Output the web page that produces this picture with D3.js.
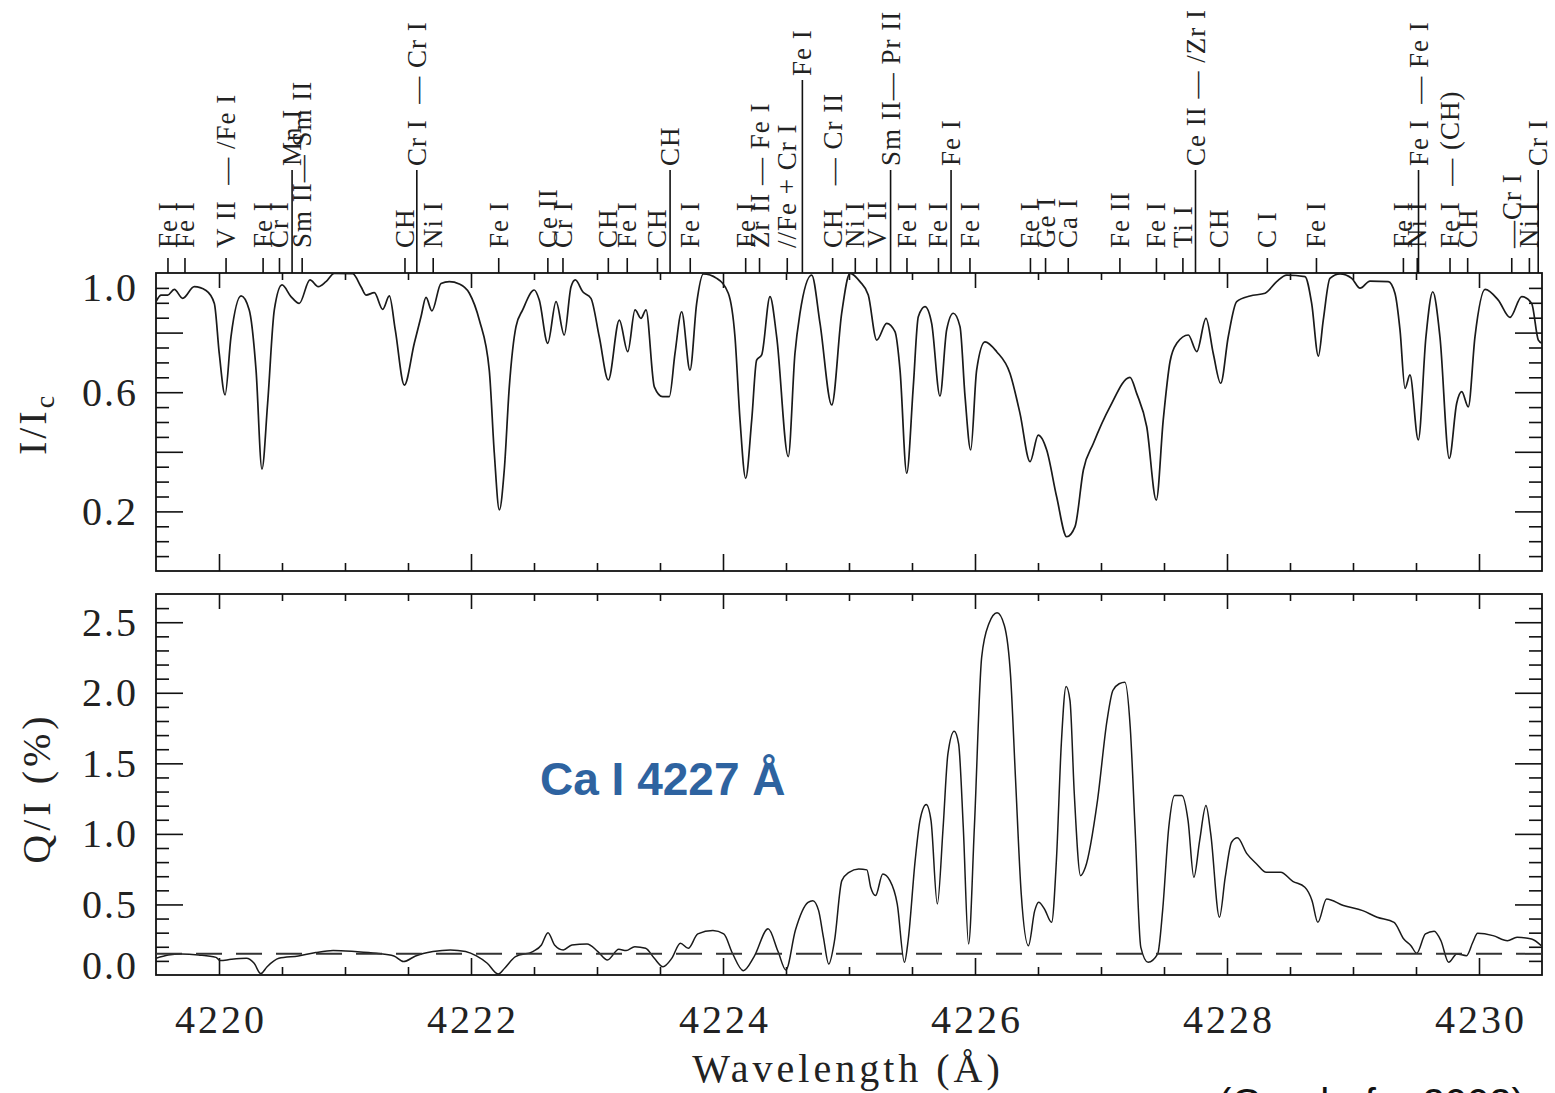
<!DOCTYPE html>
<html>
<head>
<meta charset="utf-8">
<script src="https://cdn.jsdelivr.net/npm/d3@7"></script>
<style>
  body { margin: 0; background: #fff; }
  svg text { font-family: "Liberation Serif", "DejaVu Serif", serif; }
</style>
</head>
<body>
<div id="chart"></div>
<script>
// upper panel: I/Ic
const iWave = [4219.500, 4219.540, 4219.593, 4219.645, 4219.712, 4219.804, 4219.897, 4219.963, 4220.002, 4220.048,
  4220.095, 4220.175, 4220.240, 4220.294, 4220.341, 4220.386, 4220.439, 4220.500, 4220.571, 4220.637,
  4220.722, 4220.788, 4220.849, 4220.915, 4221.061, 4221.127, 4221.167, 4221.233, 4221.299, 4221.352,
  4221.399, 4221.471, 4221.550, 4221.603, 4221.643, 4221.690, 4221.762, 4221.828, 4221.907, 4221.987,
  4222.066, 4222.145, 4222.185, 4222.225, 4222.264, 4222.304, 4222.357, 4222.410, 4222.502, 4222.542,
  4222.609, 4222.675, 4222.740, 4222.794, 4222.828, 4222.887, 4222.952, 4223.018, 4223.090, 4223.177,
  4223.244, 4223.302, 4223.349, 4223.389, 4223.455, 4223.521, 4223.574, 4223.619, 4223.672, 4223.738,
  4223.791, 4223.844, 4223.950, 4224.042, 4224.095, 4224.135, 4224.180, 4224.228, 4224.267, 4224.307,
  4224.373, 4224.426, 4224.518, 4224.571, 4224.611, 4224.704, 4224.770, 4224.863, 4224.942, 4225.008,
  4225.087, 4225.153, 4225.220, 4225.299, 4225.365, 4225.405, 4225.458, 4225.510, 4225.550, 4225.603,
  4225.656, 4225.722, 4225.775, 4225.828, 4225.881, 4225.921, 4225.966, 4226.013, 4226.079, 4226.172,
  4226.278, 4226.357, 4226.437, 4226.502, 4226.569, 4226.648, 4226.728, 4226.794, 4226.860, 4226.939,
  4227.071, 4227.230, 4227.283, 4227.363, 4227.439, 4227.494, 4227.548, 4227.601, 4227.693, 4227.760,
  4227.833, 4227.891, 4227.950, 4228.010, 4228.077, 4228.183, 4228.302, 4228.394, 4228.474, 4228.619,
  4228.672, 4228.725, 4228.764, 4228.817, 4228.897, 4228.990, 4229.056, 4229.135, 4229.280, 4229.333,
  4229.373, 4229.413, 4229.452, 4229.518, 4229.579, 4229.633, 4229.690, 4229.764, 4229.823, 4229.863,
  4229.915, 4229.968, 4230.048, 4230.153, 4230.246, 4230.339, 4230.418, 4230.471, 4230.500]
const iVal = [0.904, 0.926, 0.926, 0.945, 0.915, 0.954, 0.941, 0.898, 0.730, 0.591,
  0.786, 0.923, 0.876, 0.674, 0.342, 0.563, 0.876, 0.960, 0.921, 0.898,
  0.977, 0.954, 0.971, 0.999, 0.998, 0.954, 0.926, 0.934, 0.878, 0.923,
  0.809, 0.624, 0.764, 0.853, 0.918, 0.873, 0.965, 0.971, 0.963, 0.932,
  0.842, 0.674, 0.395, 0.205, 0.339, 0.618, 0.820, 0.876, 0.943, 0.909,
  0.764, 0.904, 0.792, 0.954, 0.977, 0.937, 0.915, 0.786, 0.641, 0.842,
  0.736, 0.876, 0.848, 0.876, 0.618, 0.585, 0.585, 0.730, 0.870, 0.674,
  0.898, 0.997, 0.982, 0.932, 0.786, 0.507, 0.311, 0.507, 0.708, 0.725,
  0.921, 0.786, 0.384, 0.730, 0.865, 0.993, 0.831, 0.557, 0.865, 0.999,
  0.971, 0.926, 0.775, 0.831, 0.803, 0.674, 0.328, 0.618, 0.853, 0.887,
  0.831, 0.587, 0.809, 0.865, 0.820, 0.585, 0.406, 0.674, 0.769, 0.736,
  0.663, 0.529, 0.367, 0.456, 0.406, 0.249, 0.115, 0.149, 0.339, 0.428,
  0.551, 0.650, 0.596, 0.484, 0.238, 0.507, 0.703, 0.764, 0.792, 0.736,
  0.848, 0.730, 0.630, 0.786, 0.904, 0.923, 0.932, 0.971, 0.993, 0.988,
  0.898, 0.721, 0.842, 0.982, 0.997, 0.982, 0.949, 0.973, 0.971, 0.932,
  0.809, 0.613, 0.658, 0.440, 0.786, 0.937, 0.786, 0.378, 0.563, 0.602,
  0.551, 0.786, 0.945, 0.909, 0.851, 0.921, 0.898, 0.775, 0.764]

// lower panel: Q/I in percent
const qWave = [4219.500, 4219.597, 4219.700, 4219.838, 4219.976, 4220.010, 4220.096, 4220.217, 4220.279, 4220.331,
  4220.382, 4220.475, 4220.630, 4220.768, 4220.906, 4221.078, 4221.250, 4221.388, 4221.464, 4221.560,
  4221.698, 4221.836, 4221.957, 4222.043, 4222.129, 4222.215, 4222.267, 4222.353, 4222.491, 4222.559,
  4222.611, 4222.663, 4222.732, 4222.801, 4222.921, 4223.007, 4223.083, 4223.173, 4223.231, 4223.300,
  4223.386, 4223.455, 4223.524, 4223.593, 4223.662, 4223.724, 4223.800, 4223.920, 4224.006, 4224.075,
  4224.161, 4224.247, 4224.358, 4224.437, 4224.499, 4224.575, 4224.675, 4224.713, 4224.759, 4224.797,
  4224.839, 4224.885, 4224.943, 4225.000, 4225.077, 4225.142, 4225.172, 4225.211, 4225.268, 4225.325,
  4225.383, 4225.440, 4225.470, 4225.525, 4225.563, 4225.613, 4225.651, 4225.701, 4225.747, 4225.785,
  4225.835, 4225.870, 4225.907, 4225.949, 4225.995, 4226.053, 4226.110, 4226.175, 4226.233, 4226.283,
  4226.321, 4226.367, 4226.424, 4226.474, 4226.505, 4226.551, 4226.608, 4226.646, 4226.685, 4226.723,
  4226.754, 4226.788, 4226.838, 4226.876, 4226.972, 4227.048, 4227.094, 4227.144, 4227.190, 4227.232,
  4227.270, 4227.316, 4227.374, 4227.450, 4227.489, 4227.538, 4227.584, 4227.642, 4227.691, 4227.737,
  4227.783, 4227.833, 4227.871, 4227.940, 4227.986, 4228.036, 4228.082, 4228.159, 4228.235, 4228.312,
  4228.426, 4228.522, 4228.618, 4228.675, 4228.721, 4228.790, 4228.924, 4229.077, 4229.192, 4229.326,
  4229.403, 4229.460, 4229.506, 4229.575, 4229.644, 4229.698, 4229.759, 4229.824, 4229.901, 4229.951,
  4229.989, 4230.111, 4230.226, 4230.302, 4230.417, 4230.494]
const qVal = [0.118, 0.142, 0.149, 0.142, 0.125, 0.102, 0.111, 0.118, 0.083, 0.010,
  0.059, 0.118, 0.135, 0.159, 0.173, 0.166, 0.154, 0.135, 0.095, 0.135,
  0.166, 0.178, 0.166, 0.135, 0.083, 0.007, 0.048, 0.130, 0.166, 0.213,
  0.300, 0.213, 0.178, 0.213, 0.220, 0.166, 0.107, 0.182, 0.173, 0.201,
  0.189, 0.118, 0.059, 0.118, 0.225, 0.189, 0.291, 0.315, 0.291, 0.154,
  0.031, 0.130, 0.327, 0.166, 0.036, 0.319, 0.515, 0.527, 0.456, 0.267,
  0.078, 0.243, 0.669, 0.728, 0.752, 0.745, 0.622, 0.563, 0.716, 0.669,
  0.503, 0.090, 0.250, 0.811, 1.094, 1.208, 1.094, 0.503, 1.047, 1.567,
  1.728, 1.638, 1.047, 0.220, 1.047, 2.253, 2.489, 2.567, 2.477, 2.111,
  1.402, 0.574, 0.208, 0.456, 0.515, 0.468, 0.373, 0.811, 1.638, 2.045,
  1.945, 1.284, 0.704, 0.763, 1.236, 1.804, 2.016, 2.064, 2.075, 1.756,
  1.047, 0.196, 0.090, 0.149, 0.456, 1.047, 1.272, 1.272, 1.094, 0.693,
  0.953, 1.201, 1.000, 0.409, 0.693, 0.941, 0.972, 0.858, 0.787, 0.728,
  0.728, 0.664, 0.622, 0.527, 0.373, 0.539, 0.492, 0.456, 0.409, 0.373,
  0.255, 0.208, 0.154, 0.291, 0.310, 0.243, 0.090, 0.149, 0.137, 0.232,
  0.295, 0.279, 0.243, 0.267, 0.255, 0.208]

// line identifications along the top (level: 0 short mark, 1 long, 2 tallest)
const idWave = [4219.595, 4219.730, 4220.056, 4220.350, 4220.480, 4220.580, 4220.660, 4221.476, 4221.570, 4221.700,
  4222.220, 4222.610, 4222.730, 4223.090, 4223.240, 4223.480, 4223.580, 4223.740, 4224.180, 4224.290,
  4224.510, 4224.630, 4224.870, 4225.050, 4225.220, 4225.330, 4225.460, 4225.710, 4225.810, 4225.960,
  4226.440, 4226.560, 4226.740, 4227.150, 4227.440, 4227.650, 4227.750, 4227.940, 4228.320, 4228.710,
  4229.400, 4229.510, 4229.520, 4229.770, 4229.910, 4230.260, 4230.400, 4230.470]
const idLabel = ["Fe I", "Fe I", "V II  — /Fe I", "Fe I", "Cr I", "Mn I", "Sm II— Sm II", "CH", "Cr I  — Cr I", "Ni I",
  "Fe I", "Ce II", "Cr I", "CH", "Fe I", "CH", "CH", "Fe I", "Fe I", "Zr II — Fe I",
  "//Fe + Cr I", "Fe I", "CH   — Cr II", "Ni I", "V II", "Sm II— Pr II", "Fe I", "Fe I", "Fe I", "Fe I",
  "Fe I", "Ge I", "Ca I", "Fe II", "Fe I", "Ti I", "Ce II — /Zr I", "CH", "C I", "Fe I",
  "Fe I", "Ni I", "Fe I  — Fe I", "Fe I  — (CH)", "CH", "—Cr I", "Ni I", "Cr I"]
const idLevel = [0, 0, 0, 0, 0, 1, 0, 0, 1, 0,
  0, 0, 0, 0, 0, 0, 1, 0, 0, 0,
  0, 2, 0, 0, 0, 1, 0, 0, 1, 0,
  0, 0, 0, 0, 0, 0, 1, 0, 0, 0,
  0, 0, 1, 0, 0, 0, 0, 1]

const xLabels = [4220, 4222, 4224, 4226, 4228, 4230]
const iLabels = [0.2, 0.6, 1.0]
const qLabels = [0.0, 0.5, 1.0, 1.5, 2.0, 2.5]
const qReference = 0.15

function drawChart(selector) {

  let width = 1555
  let height = 1093
  let left = 156, right = 1542
  let top1 = 273, bot1 = 571
  let top2 = 594, bot2 = 975

  let svg = d3.select(selector)
    .append("svg")
    .attr("width", width)
    .attr("height", height)
    .style("background", "#fff")

  let x = d3.scaleLinear().domain([4219.5, 4230.5]).range([left, right])
  let yI = d3.scaleLinear().domain([0, 1]).range([bot1, top1])
  let yQ = d3.scaleLinear().domain([0, 2.7]).range([bot2, top2])

  let majorX = xLabels
  let minorX = d3.range(1, 21).map(i => 4220 + i * 0.5).filter(v => !majorX.includes(v))

  // clip paths so the curves stay inside the boxes
  let defs = svg.append("defs")
  defs.append("clipPath").attr("id", "clipTop")
    .append("rect").attr("x", left).attr("y", top1).attr("width", right - left).attr("height", bot1 - top1)
  defs.append("clipPath").attr("id", "clipBot")
    .append("rect").attr("x", left).attr("y", top2).attr("width", right - left).attr("height", bot2 - top2)

  function tickAxis(axis, pos, values, size) {
    let g = svg.append("g")
      .attr("transform", pos)
      .call(axis.tickValues(values).tickSize(size).tickFormat(""))
    g.select(".domain").remove()
    g.selectAll("line").attr("stroke", "#111").attr("stroke-width", 1.6)
  }

  function panelTicks(y, top, bot, majorY, minorY) {
    tickAxis(d3.axisBottom(x), `translate(0,${bot})`, majorX, -17)
    tickAxis(d3.axisBottom(x), `translate(0,${bot})`, minorX, -8)
    tickAxis(d3.axisTop(x), `translate(0,${top})`, majorX, -15)
    tickAxis(d3.axisTop(x), `translate(0,${top})`, minorX, -7)
    tickAxis(d3.axisLeft(y), `translate(${left},0)`, majorY, -27)
    tickAxis(d3.axisLeft(y), `translate(${left},0)`, minorY, -13)
    tickAxis(d3.axisRight(y), `translate(${right},0)`, majorY, -27)
    tickAxis(d3.axisRight(y), `translate(${right},0)`, minorY, -13)

    svg.append("rect")
      .attr("x", left).attr("y", top)
      .attr("width", right - left).attr("height", bot - top)
      .attr("fill", "none")
      .attr("stroke", "#111")
      .attr("stroke-width", 1.8)
  }

  let iMajor = [0.2, 0.4, 0.6, 0.8]
  let iMinor = d3.range(1, 20).map(i => +(i * 0.05).toFixed(2)).filter(v => !iMajor.includes(v))
  let qMajor = [0.5, 1.0, 1.5, 2.0, 2.5]
  let qMinor = d3.range(1, 27).map(i => +(i * 0.1).toFixed(1)).filter(v => !qMajor.includes(v))

  panelTicks(yI, top1, bot1, iMajor, iMinor)
  panelTicks(yQ, top2, bot2, qMajor, qMinor)

  // y tick labels
  function yLabels(values, y, top, bot) {
    svg.append("g").selectAll("text")
      .data(values)
      .enter().append("text")
      .attr("x", 138)
      .attr("y", d => Math.min(Math.max(y(d), top + 14), bot - 10))
      .attr("dominant-baseline", "central")
      .attr("text-anchor", "end")
      .style("font-size", "40px")
      .style("letter-spacing", "2px")
      .attr("fill", "#222")
      .text(d => d.toFixed(1))
  }
  yLabels(iLabels, yI, top1, bot1)
  yLabels(qLabels, yQ, top2, bot2)

  // x tick labels
  svg.append("g").selectAll("text")
    .data(xLabels)
    .enter().append("text")
    .attr("x", d => x(d) + 2)
    .attr("y", bot2 + 58)
    .attr("text-anchor", "middle")
    .style("font-size", "40px")
    .style("letter-spacing", "3px")
    .attr("fill", "#222")
    .text(d => d)

  // axis titles
  svg.append("text")
    .attr("x", 848).attr("y", 1082)
    .attr("text-anchor", "middle")
    .style("font-size", "40px")
    .style("letter-spacing", "4px")
    .attr("fill", "#222")
    .text("Wavelength (Å)")

  let iTitle = svg.append("text")
    .attr("transform", "translate(46,424) rotate(-90)")
    .attr("text-anchor", "middle")
    .style("font-size", "40px")
    .style("letter-spacing", "3px")
    .attr("fill", "#222")
  iTitle.append("tspan").text("I/I")
  iTitle.append("tspan").attr("dy", 8).style("font-size", "28px").text("c")

  svg.append("text")
    .attr("transform", "translate(50,788) rotate(-90)")
    .attr("text-anchor", "middle")
    .style("font-size", "40px")
    .style("letter-spacing", "4px")
    .attr("fill", "#222")
    .text("Q/I (%)")

  // spectra
  let lineI = d3.line()
    .x((d, i) => x(iWave[i]))
    .y(d => yI(d))
    .curve(d3.curveMonotoneX)

  svg.append("path")
    .datum(iVal)
    .attr("clip-path", "url(#clipTop)")
    .attr("d", lineI)
    .attr("fill", "none")
    .attr("stroke", "#1a1a1a")
    .attr("stroke-width", 1.7)

  let lineQ = d3.line()
    .x((d, i) => x(qWave[i]))
    .y(d => yQ(d))
    .curve(d3.curveMonotoneX)

  svg.append("path")
    .datum(qVal)
    .attr("clip-path", "url(#clipBot)")
    .attr("d", lineQ)
    .attr("fill", "none")
    .attr("stroke", "#1a1a1a")
    .attr("stroke-width", 1.5)

  // dashed reference level
  svg.append("line")
    .attr("x1", left).attr("x2", right)
    .attr("y1", yQ(qReference)).attr("y2", yQ(qReference))
    .attr("stroke", "#333")
    .attr("stroke-width", 2)
    .attr("stroke-dasharray", "26,14")

  // line identification marks above the upper box
  let markHeight = [15, 103, 193]
  let ids = svg.append("g").selectAll("g")
    .data(idWave.map((w, i) => ({ w: w, label: idLabel[i], level: idLevel[i] })))
    .enter().append("g")

  ids.append("line")
    .attr("x1", d => x(d.w)).attr("x2", d => x(d.w))
    .attr("y1", top1).attr("y2", d => top1 - markHeight[d.level])
    .attr("stroke", "#111")
    .attr("stroke-width", 1.6)

  ids.append("text")
    .attr("transform", d => `translate(${x(d.w)},${top1 - markHeight[d.level] - (d.level ? 4 : 10)}) rotate(-90)`)
    .attr("dominant-baseline", "central")
    .attr("text-anchor", "start")
    .style("font-size", "27px")
    .style("letter-spacing", "1px")
    .style("white-space", "pre")
    .attr("fill", "#222")
    .text(d => d.label)

  // annotations
  svg.append("text")
    .attr("x", 540).attr("y", 795)
    .style("font-family", "'Liberation Sans', Arial, sans-serif")
    .style("font-weight", "bold")
    .style("font-size", "46px")
    .attr("fill", "#2e63a0")
    .text("Ca I 4227 Å")

  // source note, cut by the lower edge as in the original slide
  svg.append("text")
    .attr("x", 1218).attr("y", 1117)
    .style("font-family", "'Liberation Sans', Arial, sans-serif")
    .style("font-size", "40px")
    .attr("fill", "#111")
    .text("(Gandorfer 2002)")

  return svg
}

drawChart("#chart")
</script>
</body>
</html>
